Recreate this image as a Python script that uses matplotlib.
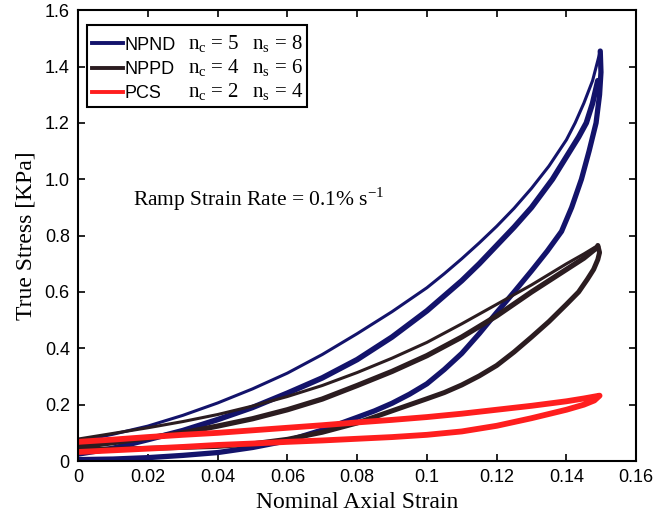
import matplotlib
matplotlib.use("Agg")
import matplotlib.pyplot as plt
from matplotlib.patches import Rectangle

# ── Data ─────────────────────────────────────────────────────────────────────
# NPND (navy): first loading (thin), later loadings (thick), unloading
npnd_load1_x = [0, 0.01, 0.02, 0.03, 0.04, 0.05, 0.06, 0.07, 0.08, 0.09, 0.10, 0.105,
                0.11, 0.115, 0.12, 0.125, 0.13, 0.135, 0.14, 0.1425, 0.145, 0.1475, 0.1497]
npnd_load1_y = [0.07, 0.095, 0.124, 0.162, 0.206, 0.256, 0.312, 0.378, 0.452, 0.53, 0.615, 0.665,
                0.718, 0.774, 0.833, 0.897, 0.968, 1.047, 1.14, 1.2, 1.27, 1.35, 1.455]
npnd_load2_x = [0, 0.01, 0.02, 0.03, 0.04, 0.05, 0.06, 0.07, 0.08, 0.09, 0.10,
                0.11, 0.115, 0.12, 0.125, 0.13, 0.136, 0.14, 0.1435, 0.1457, 0.1475, 0.149]
npnd_load2_y = [0.025, 0.045, 0.076, 0.108, 0.147, 0.19, 0.241, 0.295, 0.36, 0.44, 0.533,
                0.64, 0.7, 0.765, 0.83, 0.9, 1.0, 1.08, 1.15, 1.2, 1.27, 1.35]
npnd_unload_x = [0.1497, 0.1499, 0.1495, 0.1485, 0.1465, 0.1443, 0.1415, 0.1386, 0.1345,
                 0.13, 0.125, 0.12, 0.115, 0.11, 0.105, 0.10, 0.095, 0.09, 0.085, 0.08,
                 0.07, 0.06, 0.05, 0.04, 0.03, 0.02, 0.01, 0]
npnd_unload_y = [1.455, 1.38, 1.3, 1.2, 1.1, 1.0, 0.9, 0.815, 0.745,
                 0.675, 0.6, 0.527, 0.452, 0.382, 0.325, 0.274, 0.237, 0.205, 0.178, 0.155,
                 0.11, 0.072, 0.048, 0.03, 0.02, 0.012, 0.007, 0.005]

# NPPD (black)
nppd_load1_x = [0, 0.01, 0.02, 0.03, 0.04, 0.05, 0.06, 0.07, 0.08, 0.09, 0.10,
                0.11, 0.12, 0.13, 0.14, 0.145, 0.149]
nppd_load1_y = [0.078, 0.098, 0.118, 0.14, 0.165, 0.195, 0.229, 0.268, 0.314, 0.365, 0.421,
                0.487, 0.556, 0.625, 0.70, 0.735, 0.765]
nppd_load2_x = [0, 0.01, 0.02, 0.03, 0.04, 0.05, 0.06, 0.07, 0.08, 0.09, 0.10,
                0.11, 0.12, 0.13, 0.14, 0.145, 0.149]
nppd_load2_y = [0.05, 0.065, 0.082, 0.1, 0.124, 0.15, 0.182, 0.22, 0.268, 0.318, 0.374,
                0.44, 0.515, 0.6, 0.68, 0.72, 0.76]
nppd_unload_x = [0.149, 0.1495, 0.149, 0.1478, 0.146, 0.1435, 0.14, 0.135, 0.13, 0.125,
                 0.12, 0.115, 0.11, 0.105, 0.10, 0.09, 0.08, 0.07, 0.06, 0.05, 0.04, 0.02, 0]
nppd_unload_y = [0.765, 0.74, 0.715, 0.68, 0.645, 0.6, 0.556, 0.495, 0.44, 0.387,
                 0.339, 0.302, 0.27, 0.243, 0.221, 0.178, 0.135, 0.102, 0.077, 0.061, 0.052,
                 0.045, 0.04]

# PCS (red)
pcs_x = [0, 0.01, 0.02, 0.03, 0.04, 0.05, 0.06, 0.07, 0.08, 0.09, 0.10, 0.11, 0.12,
         0.13, 0.14, 0.145, 0.1495,
         0.148, 0.145, 0.14, 0.13, 0.12, 0.11, 0.10, 0.09, 0.08, 0.07, 0.06, 0.05,
         0.04, 0.03, 0.02, 0.01, 0]
pcs_y = [0.068, 0.076, 0.085, 0.093, 0.1, 0.109, 0.118, 0.127, 0.137, 0.146, 0.156, 0.168, 0.182,
         0.196, 0.212, 0.222, 0.232,
         0.215, 0.2, 0.182, 0.152, 0.125, 0.105, 0.093, 0.085, 0.079, 0.073, 0.068, 0.062,
         0.057, 0.05, 0.044, 0.038, 0.032]

x_ticks = [0, 0.02, 0.04, 0.06, 0.08, 0.1, 0.12, 0.14, 0.16]
x_ticklabels = ["0", "0.02", "0.04", "0.06", "0.08", "0.1", "0.12", "0.14", "0.16"]
y_ticks = [0, 0.2, 0.4, 0.6, 0.8, 1.0, 1.2, 1.4, 1.6]
y_ticklabels = ["0", "0.2", "0.4", "0.6", "0.8", "1.0", "1.2", "1.4", "1.6"]

series_names = ["NPND", "NPPD", "PCS"]
n_c = [5, 4, 2]
n_s = [8, 6, 4]

BLUE  = "#13136b"
BLACK = "#2b1c20"
RED   = "#ff1e1e"

SANS  = "Liberation Sans"
SERIF = "Liberation Serif"

# ── Figure ────────────────────────────────────────────────────────────────────
fig = plt.figure(figsize=(6.62, 5.23), dpi=100)
ax = fig.add_axes([0.118, 0.1185, 0.843, 0.862])

style = dict(solid_capstyle="round", solid_joinstyle="round")
ax.plot(npnd_load1_x, npnd_load1_y, color=BLUE, lw=2.2, **style)
ax.plot(npnd_load2_x, npnd_load2_y, color=BLUE, lw=4.0, **style)
ax.plot(npnd_unload_x, npnd_unload_y, color=BLUE, lw=3.8, **style)

ax.plot(nppd_load1_x, nppd_load1_y, color=BLACK, lw=2.2, **style)
ax.plot(nppd_load2_x, nppd_load2_y, color=BLACK, lw=3.8, **style)
ax.plot(nppd_unload_x, nppd_unload_y, color=BLACK, lw=3.6, **style)

ax.plot(pcs_x, pcs_y, color=RED, lw=4.2, **style)

ax.set_xlim(0, 0.16)
ax.set_ylim(0, 1.6)
ax.set_xticks(x_ticks)
ax.set_xticklabels(x_ticklabels, family=SANS, fontsize=13)
ax.set_yticks(y_ticks)
ax.set_yticklabels(y_ticklabels, family=SANS, fontsize=13)
ax.tick_params(direction="in", top=True, right=True, length=5, width=1.2, pad=6)
for s in ax.spines.values():
    s.set_linewidth(1.5)

ax.set_xlabel("Nominal Axial Strain", family=SERIF, fontsize=17, labelpad=4)
ax.set_ylabel("True Stress [KPa]", family=SERIF, fontsize=17, labelpad=6)

ax.text(0.0158, 0.93, "Ramp Strain Rate = 0.1% s$^{\\mathregular{-1}}$",
        family=SERIF, fontsize=15.5, va="center", ha="left")

# legend: frame box, handles + names, then the n_c / n_s columns
ax.add_patch(Rectangle((0.016, 0.785), 0.394, 0.182, transform=ax.transAxes,
                       facecolor="white", edgecolor="black", lw=1.5, zorder=4))
handles = [plt.Line2D([], [], color=c, lw=2.8) for c in (BLUE, BLACK, RED)]
leg = ax.legend(handles, series_names, loc="upper left", bbox_to_anchor=(0.016, 0.951),
                borderaxespad=0, frameon=False, handlelength=1.75, handletextpad=0.05,
                labelspacing=0.4, borderpad=0.25, prop={"family": SANS, "size": 13})
leg.set_zorder(5)
row_y = [0.925, 0.871, 0.818]
for yy, c, s in zip(row_y, n_c, n_s):
    ax.text(0.197, yy, "n$_{\\mathregular{c}}$ = %d" % c, transform=ax.transAxes,
            family=SERIF, fontsize=15, va="center", ha="left", zorder=6)
    ax.text(0.311, yy, "n$_{\\mathregular{s}}$ = %d" % s, transform=ax.transAxes,
            family=SERIF, fontsize=15, va="center", ha="left", zorder=6)

fig.savefig("out.png", dpi=100)
